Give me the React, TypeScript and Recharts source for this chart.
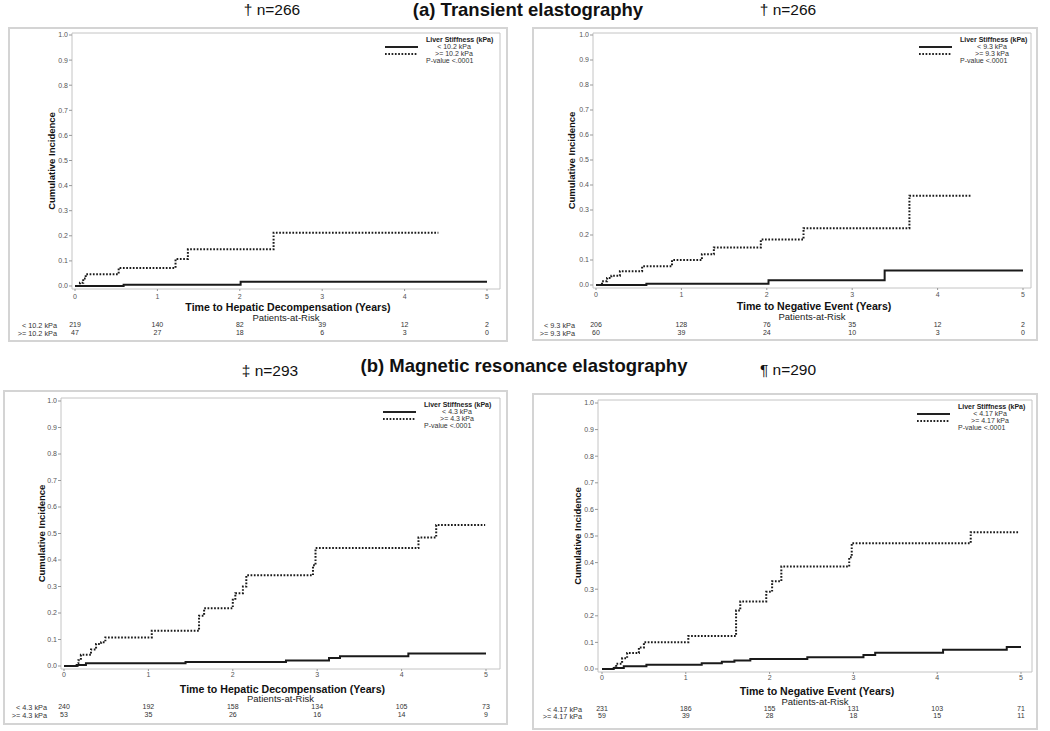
import React from 'react';
import { LineChart, Line, XAxis, YAxis, ReferenceArea, Legend } from 'recharts';

type Pt = { t: number; y: number };

const FONT = '"Liberation Sans", Arial, Helvetica, sans-serif';

const yearTicks = [0, 1, 2, 3, 4, 5];
const incidenceTicks = [0, 0.1, 0.2, 0.3, 0.4, 0.5, 0.6, 0.7, 0.8, 0.9, 1.0];

// (a) transient elastography, hepatic decompensation
const teHepLow: Pt[] = [
  { t: 0, y: 0 }, { t: 0.59, y: 0.005 }, { t: 2.01, y: 0.017 }, { t: 5.0, y: 0.017 },
];
const teHepHigh: Pt[] = [
  { t: 0, y: 0 }, { t: 0.06, y: 0.013 }, { t: 0.1, y: 0.03 }, { t: 0.13, y: 0.047 },
  { t: 0.53, y: 0.072 }, { t: 1.22, y: 0.108 }, { t: 1.37, y: 0.146 }, { t: 2.41, y: 0.212 },
  { t: 4.41, y: 0.212 },
];
const teHepRiskLow = [219, 140, 82, 39, 12, 2];
const teHepRiskHigh = [47, 27, 18, 6, 3, 0];

// (a) transient elastography, negative event
const teNegLow: Pt[] = [
  { t: 0, y: 0 }, { t: 0.59, y: 0.005 }, { t: 2.02, y: 0.019 }, { t: 3.38, y: 0.058 }, { t: 5.0, y: 0.058 },
];
const teNegHigh: Pt[] = [
  { t: 0, y: 0 }, { t: 0.07, y: 0.015 }, { t: 0.13, y: 0.028 }, { t: 0.18, y: 0.037 },
  { t: 0.28, y: 0.055 }, { t: 0.54, y: 0.075 }, { t: 0.89, y: 0.1 }, { t: 1.24, y: 0.123 },
  { t: 1.38, y: 0.15 }, { t: 1.93, y: 0.182 }, { t: 2.43, y: 0.227 }, { t: 3.67, y: 0.357 },
  { t: 4.4, y: 0.357 },
];
const teNegRiskLow = [206, 128, 76, 35, 12, 2];
const teNegRiskHigh = [60, 39, 24, 10, 3, 0];

// (b) MR elastography, hepatic decompensation
const mreHepLow: Pt[] = [
  { t: 0, y: 0 }, { t: 0.15, y: 0.004 }, { t: 0.26, y: 0.01 }, { t: 1.44, y: 0.015 },
  { t: 2.63, y: 0.021 }, { t: 3.14, y: 0.03 }, { t: 3.27, y: 0.037 }, { t: 4.08, y: 0.047 },
  { t: 5.0, y: 0.047 },
];
const mreHepHigh: Pt[] = [
  { t: 0, y: 0 }, { t: 0.16, y: 0.01 }, { t: 0.17, y: 0.022 }, { t: 0.2, y: 0.042 },
  { t: 0.32, y: 0.062 }, { t: 0.38, y: 0.083 }, { t: 0.44, y: 0.09 }, { t: 0.49, y: 0.108 },
  { t: 1.04, y: 0.133 }, { t: 1.6, y: 0.19 }, { t: 1.66, y: 0.218 }, { t: 2.0, y: 0.25 },
  { t: 2.03, y: 0.275 }, { t: 2.12, y: 0.3 }, { t: 2.16, y: 0.342 }, { t: 2.95, y: 0.38 },
  { t: 2.98, y: 0.445 }, { t: 4.2, y: 0.485 }, { t: 4.41, y: 0.532 }, { t: 4.99, y: 0.532 },
];
const mreHepRiskLow = [240, 192, 158, 134, 105, 73];
const mreHepRiskHigh = [53, 35, 26, 16, 14, 9];

// (b) MR elastography, negative event
const mreNegLow: Pt[] = [
  { t: 0, y: 0 }, { t: 0.14, y: 0.004 }, { t: 0.26, y: 0.01 }, { t: 0.53, y: 0.016 },
  { t: 1.19, y: 0.022 }, { t: 1.43, y: 0.027 }, { t: 1.58, y: 0.032 }, { t: 1.77, y: 0.038 },
  { t: 2.45, y: 0.044 }, { t: 3.12, y: 0.053 }, { t: 3.26, y: 0.061 }, { t: 4.07, y: 0.072 },
  { t: 4.83, y: 0.083 }, { t: 5.0, y: 0.083 },
];
const mreNegHigh: Pt[] = [
  { t: 0, y: 0 }, { t: 0.14, y: 0.005 }, { t: 0.17, y: 0.02 }, { t: 0.24, y: 0.04 },
  { t: 0.3, y: 0.06 }, { t: 0.44, y: 0.081 }, { t: 0.5, y: 0.101 }, { t: 1.03, y: 0.124 },
  { t: 1.6, y: 0.22 }, { t: 1.65, y: 0.254 }, { t: 1.96, y: 0.29 }, { t: 2.03, y: 0.33 },
  { t: 2.14, y: 0.385 }, { t: 2.95, y: 0.42 }, { t: 2.98, y: 0.473 }, { t: 4.4, y: 0.514 },
  { t: 4.98, y: 0.514 },
];
const mreNegRiskLow = [231, 186, 155, 131, 103, 71];
const mreNegRiskHigh = [59, 39, 28, 18, 15, 11];

interface PanelCfg {
  box: { l: number; t: number; w: number; h: number };
  x0: number; x5: number; y0: number; y1: number;
  frame: { l: number; r: number; t: number; b: number };
  rows: { tick: number; title: number; par: number; r1: number; r2: number };
  yLabelX: number;
  riskLabelRight: number;
  legendLeft: number; legendTop: number; legendTextCx: number;
  xTitle: string;
  lowLabel: string; highLabel: string;
  low: Pt[]; high: Pt[];
  riskLow: number[]; riskHigh: number[];
}

const panels: PanelCfg[] = [
  {
    box: { l: 8, t: 27, w: 500, h: 315 },
    x0: 75, x5: 487, y0: 286, y1: 35,
    frame: { l: 72, r: 500, t: 33, b: 289 },
    rows: { tick: 8, title: 18, par: 28, r1: 36, r2: 44 },
    yLabelX: 52, riskLabelRight: 57,
    legendLeft: 426, legendTop: 40, legendTextCx: 28,
    xTitle: 'Time to Hepatic Decompensation (Years)',
    lowLabel: '< 10.2 kPa', highLabel: '>= 10.2 kPa',
    low: teHepLow, high: teHepHigh, riskLow: teHepRiskLow, riskHigh: teHepRiskHigh,
  },
  {
    box: { l: 532, t: 27, w: 506, h: 314 },
    x0: 596, x5: 1023, y0: 285, y1: 35,
    frame: { l: 593, r: 1031, t: 33, b: 288 },
    rows: { tick: 7, title: 18, par: 28, r1: 37, r2: 45 },
    yLabelX: 572, riskLabelRight: 575,
    legendLeft: 960, legendTop: 40, legendTextCx: 32,
    xTitle: 'Time to Negative Event (Years)',
    lowLabel: '< 9.3 kPa', highLabel: '>= 9.3 kPa',
    low: teNegLow, high: teNegHigh, riskLow: teNegRiskLow, riskHigh: teNegRiskHigh,
  },
  {
    box: { l: 3, t: 390, w: 505, h: 335 },
    x0: 64, x5: 486, y0: 666, y1: 401,
    frame: { l: 61, r: 500, t: 398, b: 669 },
    rows: { tick: 6, title: 20, par: 29, r1: 38, r2: 46 },
    yLabelX: 42, riskLabelRight: 47,
    legendLeft: 424, legendTop: 405, legendTextCx: 33,
    xTitle: 'Time to Hepatic Decompensation (Years)',
    lowLabel: '< 4.3 kPa', highLabel: '>= 4.3 kPa',
    low: mreHepLow, high: mreHepHigh, riskLow: mreHepRiskLow, riskHigh: mreHepRiskHigh,
  },
  {
    box: { l: 532, t: 393, w: 506, h: 337 },
    x0: 602, x5: 1021, y0: 669, y1: 403,
    frame: { l: 598, r: 1032, t: 400, b: 672 },
    rows: { tick: 6, title: 19.5, par: 29, r1: 37, r2: 44 },
    yLabelX: 578, riskLabelRight: 582,
    legendLeft: 958, legendTop: 407, legendTextCx: 32,
    xTitle: 'Time to Negative Event (Years)',
    lowLabel: '< 4.17 kPa', highLabel: '>= 4.17 kPa',
    low: mreNegLow, high: mreNegHigh, riskLow: mreNegRiskLow, riskHigh: mreNegRiskHigh,
  },
];

const DOTS = '1.7 1.6';

function LegendBox({ low, high, cx }: { low: string; high: string; cx: number }) {
  return (
    <svg width={130} height={30} style={{ display: 'block', overflow: 'visible' }} fontFamily={FONT}>
      <g transform="translate(44,4)">
        <text x={0} y={0} dy="0.35em" fontSize={7} fontWeight="bold" fill="#222">Liver Stiffness (kPa)</text>
        <line x1={-41} x2={-8} y1={7} y2={7} stroke="#222" strokeWidth={2} />
        <text x={cx} y={7} dy="0.35em" fontSize={7} fill="#333" textAnchor="middle">{low}</text>
        <line x1={-41} x2={-8} y1={14} y2={14} stroke="#222" strokeWidth={2} strokeDasharray={DOTS} />
        <text x={cx} y={14} dy="0.35em" fontSize={7} fill="#333" textAnchor="middle">{high}</text>
        <text x={0} y={21} dy="0.35em" fontSize={7} fill="#333">P-value &lt;.0001</text>
      </g>
    </svg>
  );
}

const riskTick = (key: 'low' | 'high', table: { t: number; low: number; high: number }[], off: number) => (p: any) => {
  const row = table.find((r) => r.t === p.payload.value);
  return (
    <text x={p.x} y={p.y + off} dy="0.35em" textAnchor="middle" fontSize={7} fill="#333" fontFamily={FONT}>
      {row ? row[key] : ''}
    </text>
  );
};

function KmPanel({ c }: { c: PanelCfg }) {
  const { box, frame, rows } = c;
  const riskTable = yearTicks.map((t, i) => ({ t, low: c.riskLow[i], high: c.riskHigh[i] }));
  const pxX = (c.x5 - c.x0) / 5;
  const pxY = c.y0 - c.y1;
  const xDomain: [number, number] = [-(c.x0 - frame.l) / pxX, 5 + (frame.r - c.x5) / pxX];
  const yDomain: [number, number] = [-(frame.b - c.y0) / pxY, 1 + (c.y1 - frame.t) / pxY];
  const yAxisW = 22;
  const hMain = rows.title + 4;
  const hPar = rows.par + 3.5 - hMain;
  const t1 = hMain + hPar;
  const h1 = (rows.r1 + rows.r2) / 2 - t1;
  const t2 = t1 + h1;
  const h2 = rows.r2 - t2 + 5;
  const bottomSpace = box.t + box.h - frame.b;
  const margin = {
    top: frame.t - box.t,
    right: box.l + box.w - frame.r,
    left: frame.l - box.l - yAxisW,
    bottom: bottomSpace - (hMain + hPar + h1 + h2),
  };
  const cxLocal = (frame.l + frame.r) / 2 - box.l;
  const bLocal = frame.b - box.t;

  return (
    <>
      <div
        style={{
          position: 'absolute', left: box.l, top: box.t, width: box.w, height: box.h,
          border: '2px solid #d4d4d4', boxSizing: 'border-box',
        }}
      />
      <div style={{ position: 'absolute', left: box.l, top: box.t }}>
        <LineChart width={box.w} height={box.h} margin={margin} data={riskTable}>
          <XAxis
            xAxisId="main" dataKey="t" type="number" domain={xDomain} allowDataOverflow
            ticks={yearTicks} interval={0} height={hMain}
            axisLine={false} tickLine={{ stroke: '#999' }} tickSize={2} tickMargin={Math.max(0, rows.tick - 5)}
            tick={{ fontSize: 7, fill: '#555', fontFamily: FONT }}
            label={{
              content: () => (
                <text x={cxLocal + 2} y={bLocal + rows.title} dy="0.36em" textAnchor="middle"
                  fontSize={10.6} fontWeight="bold" fill="#111" fontFamily={FONT}>{c.xTitle}</text>
              ),
            }}
          />
          <XAxis
            xAxisId="par" dataKey="t" type="number" domain={xDomain} allowDataOverflow height={hPar}
            axisLine={false} tickLine={false} tick={false}
            label={{
              content: () => (
                <text x={cxLocal} y={bLocal + rows.par + 0.5} dy="0.36em" textAnchor="middle"
                  fontSize={9.5} fill="#222" fontFamily={FONT}>Patients-at-Risk</text>
              ),
            }}
          />
          <XAxis
            xAxisId="r1" dataKey="t" type="number" domain={xDomain} allowDataOverflow ticks={yearTicks} interval={0}
            height={h1} axisLine={false} tickLine={false} tickSize={0} tickMargin={0}
            tick={riskTick('low', riskTable, rows.r1 - t1)}
            label={{
              content: () => (
                <text x={c.riskLabelRight - box.l} y={bLocal + rows.r1} dy="0.35em" textAnchor="end"
                  fontSize={7.3} fill="#333" fontFamily={FONT}>{c.lowLabel}</text>
              ),
            }}
          />
          <XAxis
            xAxisId="r2" dataKey="t" type="number" domain={xDomain} allowDataOverflow ticks={yearTicks} interval={0}
            height={h2} axisLine={false} tickLine={false} tickSize={0} tickMargin={0}
            tick={riskTick('high', riskTable, rows.r2 - t2)}
            label={{
              content: () => (
                <text x={c.riskLabelRight - box.l} y={bLocal + rows.r2} dy="0.35em" textAnchor="end"
                  fontSize={7.3} fill="#333" fontFamily={FONT}>{c.highLabel}</text>
              ),
            }}
          />
          <YAxis
            type="number" domain={yDomain} allowDataOverflow ticks={incidenceTicks} interval={0}
            width={yAxisW} axisLine={false} tickLine={{ stroke: '#999' }} tickSize={3} tickMargin={1}
            tickFormatter={(v: number) => v.toFixed(1)}
            tick={{ fontSize: 7, fill: '#555', fontFamily: FONT }}
            label={{
              content: () => {
                const x = c.yLabelX - box.l;
                const y = (frame.t + frame.b) / 2 - box.t;
                return (
                  <text x={x} y={y} dy="0.36em" textAnchor="middle" transform={`rotate(-90 ${x} ${y})`}
                    fontSize={9.5} fontWeight="bold" fill="#111" fontFamily={FONT}>Cumulative Incidence</text>
                );
              },
            }}
          />
          <ReferenceArea
            xAxisId="main" x1={xDomain[0]} x2={xDomain[1]} y1={yDomain[0]} y2={yDomain[1]}
            fill="none" stroke="#c4c4c4" strokeWidth={1} ifOverflow="visible"
          />
          <Legend
            layout="vertical" align="center" verticalAlign="middle"
            wrapperStyle={{ left: c.legendLeft - 44 - box.l, top: c.legendTop - 4 - box.t, width: 130, height: 30 }}
            content={() => <LegendBox low={c.lowLabel} high={c.highLabel} cx={c.legendTextCx} />}
          />
          <Line
            xAxisId="main" data={c.low} dataKey="y" name={c.lowLabel} type="stepAfter"
            stroke="#1a1a1a" strokeWidth={2} dot={false} activeDot={false} isAnimationActive={false}
          />
          <Line
            xAxisId="main" data={c.high} dataKey="y" name={c.highLabel} type="stepAfter"
            stroke="#1a1a1a" strokeWidth={2} strokeDasharray={DOTS} dot={false} activeDot={false}
            isAnimationActive={false}
          />
        </LineChart>
      </div>
    </>
  );
}

const heading = (x: number, y: number, size: number, bold: boolean): React.CSSProperties => ({
  position: 'absolute', left: x, top: y, transform: 'translateX(-50%)', whiteSpace: 'nowrap',
  fontSize: size, fontWeight: bold ? 'bold' : 'normal', lineHeight: 1, color: '#111', fontFamily: FONT,
});

export default function App() {
  return (
    <div style={{ position: 'absolute', left: 0, top: 0, width: 1050, height: 731, background: '#fff', overflow: 'hidden' }}>
      <div style={heading(528, 1, 18.5, true)}>(a) Transient elastography</div>
      <div style={heading(272, 2, 15.5, false)}>† n=266</div>
      <div style={heading(788, 2, 15.5, false)}>† n=266</div>
      <div style={heading(524, 357, 18.5, true)}>(b) Magnetic resonance elastography</div>
      <div style={heading(270, 363, 15.5, false)}>‡ n=293</div>
      <div style={heading(788, 362, 15.5, false)}>¶ n=290</div>
      {panels.map((p, i) => (
        <KmPanel key={i} c={p} />
      ))}
    </div>
  );
}
